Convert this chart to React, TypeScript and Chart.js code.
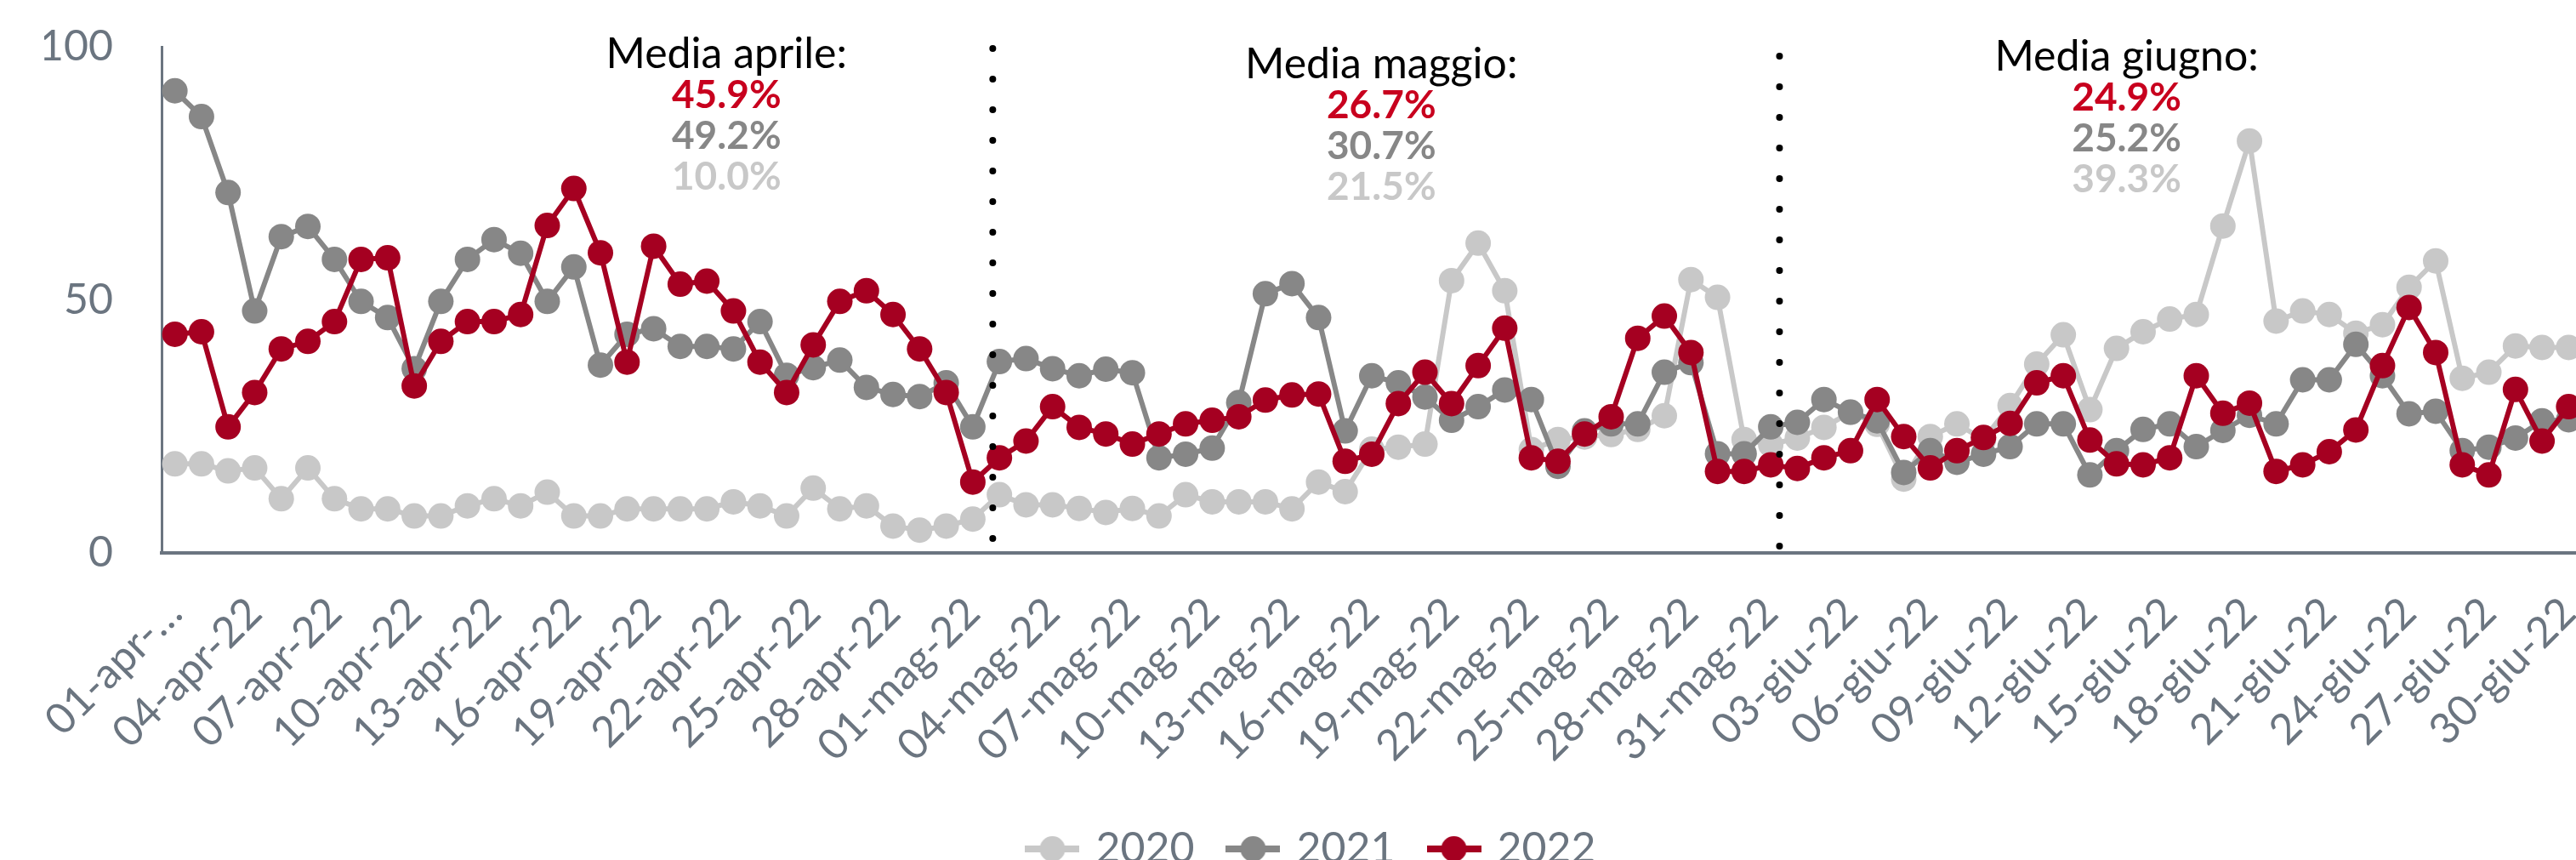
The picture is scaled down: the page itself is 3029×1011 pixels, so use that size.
import React, { useEffect, useRef } from 'react';
import { Chart, registerables } from 'chart.js';

Chart.register(...registerables);
Chart.defaults.font.family = 'Lato, "Noto Sans", sans-serif';

// ---------- data ----------
const monthParts: [string, number][] = [['apr', 30], ['mag', 31], ['giu', 30]];
const categories: string[] = monthParts.flatMap(([m, n]) =>
  Array.from({ length: n }, (_, d) => `${String(d + 1).padStart(2, '0')}-${m}-22`)
);
const firstTickLabel = '01-apr-…';
const tickEvery = 3;

const seriesNames = ['2020', '2021', '2022'];

const s2020 = [
  17.6, 17.6, 16.2, 16.8, 10.7, 16.8, 10.7, 8.7, 8.7, 7.3,
  7.3, 9.3, 10.7, 9.3, 12.0, 7.3, 7.3, 8.7, 8.7, 8.7,
  8.7, 10.1, 9.3, 7.3, 12.8, 8.7, 9.3, 5.3, 4.5, 5.3,
  6.7, 11.5, 9.5, 9.5, 8.8, 8.0, 8.8, 7.3, 11.5, 10.1,
  10.1, 10.1, 8.7, 14.0, 12.1, 20.5, 20.9, 21.5, 53.8, 61.2,
  51.8, 20.4, 22.4, 22.9, 23.4, 24.4, 27.1, 54.0, 50.5, 22.4,
  21.4,
  22.7, 24.8, 27.8, 25.4, 14.6, 23.0, 25.5, 22.4, 29.1, 37.3,
  43.1, 28.3, 40.4, 43.7, 46.2, 47.1, 64.6, 81.4, 45.8, 47.8,
  47.1, 43.4, 45.1, 52.5, 57.7, 34.5, 35.7, 40.9, 40.6, 40.6,
];

const s2021 = [
  91.3, 86.2, 71.2, 47.8, 62.5, 64.5, 58.0, 49.7, 46.5, 36.4,
  49.7, 58.0, 61.9, 59.2, 49.7, 56.5, 37.1, 43.2, 44.3, 40.8,
  40.8, 40.3, 45.7, 35.1, 36.6, 38.1, 32.7, 31.3, 30.9, 33.6,
  24.9, 37.8, 38.4, 36.4, 35.0, 36.3, 35.6, 18.8, 19.5, 20.7,
  29.7, 51.2, 53.2, 46.5, 24.1, 35.0, 33.6, 30.8, 26.2, 28.9,
  32.2, 30.3, 17.1, 24.1, 25.5, 25.5, 35.7, 37.6, 19.6, 19.6,
  24.9,
  25.8, 30.3, 27.8, 26.1, 15.9, 20.2, 17.9, 19.5, 21.0, 25.5,
  25.5, 15.4, 20.2, 24.4, 25.5, 21.0, 24.2, 27.2, 25.5, 34.2,
  34.2, 41.2, 35.0, 27.5, 28.0, 20.2, 20.9, 22.7, 26.1, 26.3,
];

const s2022 = [
  43.2, 43.7, 24.9, 31.7, 40.3, 41.8, 45.7, 58.0, 58.3, 33.0,
  41.8, 45.7, 45.7, 47.1, 64.7, 72.0, 59.3, 37.7, 60.6, 53.1,
  53.7, 47.8, 37.7, 31.7, 41.1, 49.7, 51.8, 47.1, 40.3, 31.7,
  14.0, 18.8, 22.1, 28.9, 24.8, 23.5, 21.5, 23.5, 25.5, 26.2,
  26.9, 30.2, 31.2, 31.4, 18.1, 19.5, 29.5, 35.7, 29.5, 37.0,
  44.4, 18.8, 18.1, 23.5, 26.9, 42.4, 46.8, 39.6, 16.1, 16.1,
  17.4,
  16.7, 18.8, 20.2, 30.3, 23.0, 16.8, 20.2, 22.8, 25.6, 33.6,
  35.0, 22.3, 17.6, 17.4, 18.8, 35.0, 27.6, 29.6, 16.1, 17.4,
  20.0, 24.3, 37.0, 48.5, 39.6, 17.4, 15.4, 32.3, 22.1, 28.9,
];

const yTicks = [0, 50, 100];

const monthTitles = ['Media aprile:', 'Media maggio:', 'Media giugno:'];
const avg2022 = [45.9, 26.7, 24.9];
const avg2021 = [49.2, 30.7, 25.2];
const avg2020 = [10.0, 21.5, 39.3];

// ---------- layout / style ----------
const W = 3116;
const H = 1033;
const C2020 = '#c8c8c8';
const C2021 = '#878787';
const C2022 = '#a50021';
const RED_TEXT = '#c8001e';
const SLATE = '#6b7580';

const dividerPositions = [30.75, 60.33]; // in category-index units
const dividerInsets = [[2, 16], [11, 8]]; // px from top / bottom of plot
const annotationCenters = [20.74, 45.36, 73.38]; // category-index units
const annotationTitleOffsets = [25, 37, 28]; // px below plot top

function makeMarker(color: string): HTMLCanvasElement {
  const c = document.createElement('canvas');
  c.width = 64;
  c.height = 32;
  const g = c.getContext('2d')!;
  g.fillStyle = color;
  g.fillRect(0, 12, 64, 8);
  g.beginPath();
  g.arc(32, 16, 15, 0, Math.PI * 2);
  g.fill();
  return c;
}

const overlayPlugin = {
  id: 'overlay',
  afterDraw(chart: any) {
    const { ctx, chartArea, scales } = chart;
    const x = scales.x;
    ctx.save();
    // dotted month dividers
    ctx.strokeStyle = '#000';
    ctx.lineWidth = 8;
    ctx.lineCap = 'round';
    ctx.setLineDash([0, 36]);
    dividerPositions.forEach((p, k) => {
      const xp = x.getPixelForValue(p);
      ctx.beginPath();
      ctx.moveTo(xp, chartArea.top + dividerInsets[k][0]);
      ctx.lineTo(xp, chartArea.bottom - dividerInsets[k][1] + 1);
      ctx.stroke();
    });
    ctx.setLineDash([]);
    // month averages
    ctx.textAlign = 'center';
    ctx.textBaseline = 'alphabetic';
    monthTitles.forEach((t, k) => {
      const cx = x.getPixelForValue(annotationCenters[k]);
      const by = chartArea.top + annotationTitleOffsets[k];
      ctx.font = '50px Lato';
      ctx.fillStyle = '#000';
      ctx.fillText(t, cx, by);
      ctx.font = 'bold 46px Lato';
      ctx.fillStyle = RED_TEXT;
      ctx.fillText(avg2022[k].toFixed(1) + '%', cx, by + 47);
      ctx.fillStyle = C2021;
      ctx.fillText(avg2021[k].toFixed(1) + '%', cx, by + 95);
      ctx.fillStyle = C2020;
      ctx.fillText(avg2020[k].toFixed(1) + '%', cx, by + 143);
    });
    ctx.restore();
  },
};

export default function App() {
  const ref = useRef<HTMLCanvasElement>(null);

  useEffect(() => {
    const colors = [C2020, C2021, C2022];
    const values = [s2020, s2021, s2022];
    const markers = colors.map(makeMarker);
    const chart = new Chart(ref.current!, {
      type: 'line',
      data: {
        labels: categories,
        datasets: seriesNames.map((name, i) => ({
          label: name,
          data: values[i],
          borderColor: colors[i],
          backgroundColor: colors[i],
          borderWidth: 6,
          pointRadius: 15,
          pointHoverRadius: 15,
          pointBorderWidth: 0,
          pointBackgroundColor: colors[i],
          pointBorderColor: colors[i],
          tension: 0,
          fill: false,
          order: 2 - i,
        })),
      },
      options: {
        responsive: false,
        animation: false,
        events: [],
        layout: { padding: { left: 52, right: 80, top: 55, bottom: 0 } },
        plugins: {
          tooltip: { enabled: false },
          title: { display: false },
          legend: {
            position: 'bottom',
            labels: {
              color: SLATE,
              font: { size: 50, family: 'Lato' },
              usePointStyle: true,
              pointStyleWidth: 52,
              padding: 43,
              generateLabels: (ch: any) =>
                ch.data.datasets.map((ds: any, i: number) => ({
                  text: ds.label,
                  pointStyle: markers[i],
                  fillStyle: colors[i],
                  strokeStyle: colors[i],
                  lineWidth: 0,
                  hidden: false,
                  datasetIndex: i,
                  fontColor: SLATE,
                })),
            },
          },
        },
        scales: {
          x: {
            type: 'category',
            offset: true,
            grid: { display: false, drawTicks: false },
            border: { display: true, color: SLATE, width: 4 },
            ticks: {
              autoSkip: false,
              minRotation: 45,
              maxRotation: 45,
              padding: 41,
              color: SLATE,
              font: { size: 50, family: 'Lato' },
              callback: (_v: any, index: number) =>
                index % tickEvery === 0 ? (index === 0 ? firstTickLabel : categories[index]) : '',
            },
            afterFit: (s: any) => {
              s.height = 280;
              s.paddingLeft = 0;
              s.paddingRight = 0;
            },
          },
          y: {
            min: yTicks[0],
            max: yTicks[yTicks.length - 1],
            grid: { display: false, drawTicks: false },
            border: { display: true, color: SLATE, width: 3 },
            ticks: {
              stepSize: 50,
              padding: 57,
              color: SLATE,
              font: { size: 50, family: 'Lato' },
            },
            afterFit: (s: any) => {
              s.width = 138;
              s.paddingTop = 0;
              s.paddingBottom = 0;
            },
          },
        },
      },
      plugins: [overlayPlugin],
    } as any);
    return () => chart.destroy();
  }, []);

  return (
    <div
      style={{
        position: 'fixed',
        left: 0,
        top: 0,
        width: 3029,
        height: 1011,
        overflow: 'hidden',
        background: '#fff',
      }}
    >
      <canvas ref={ref} width={W} height={H} style={{ display: 'block', width: W, height: H }} />
    </div>
  );
}
